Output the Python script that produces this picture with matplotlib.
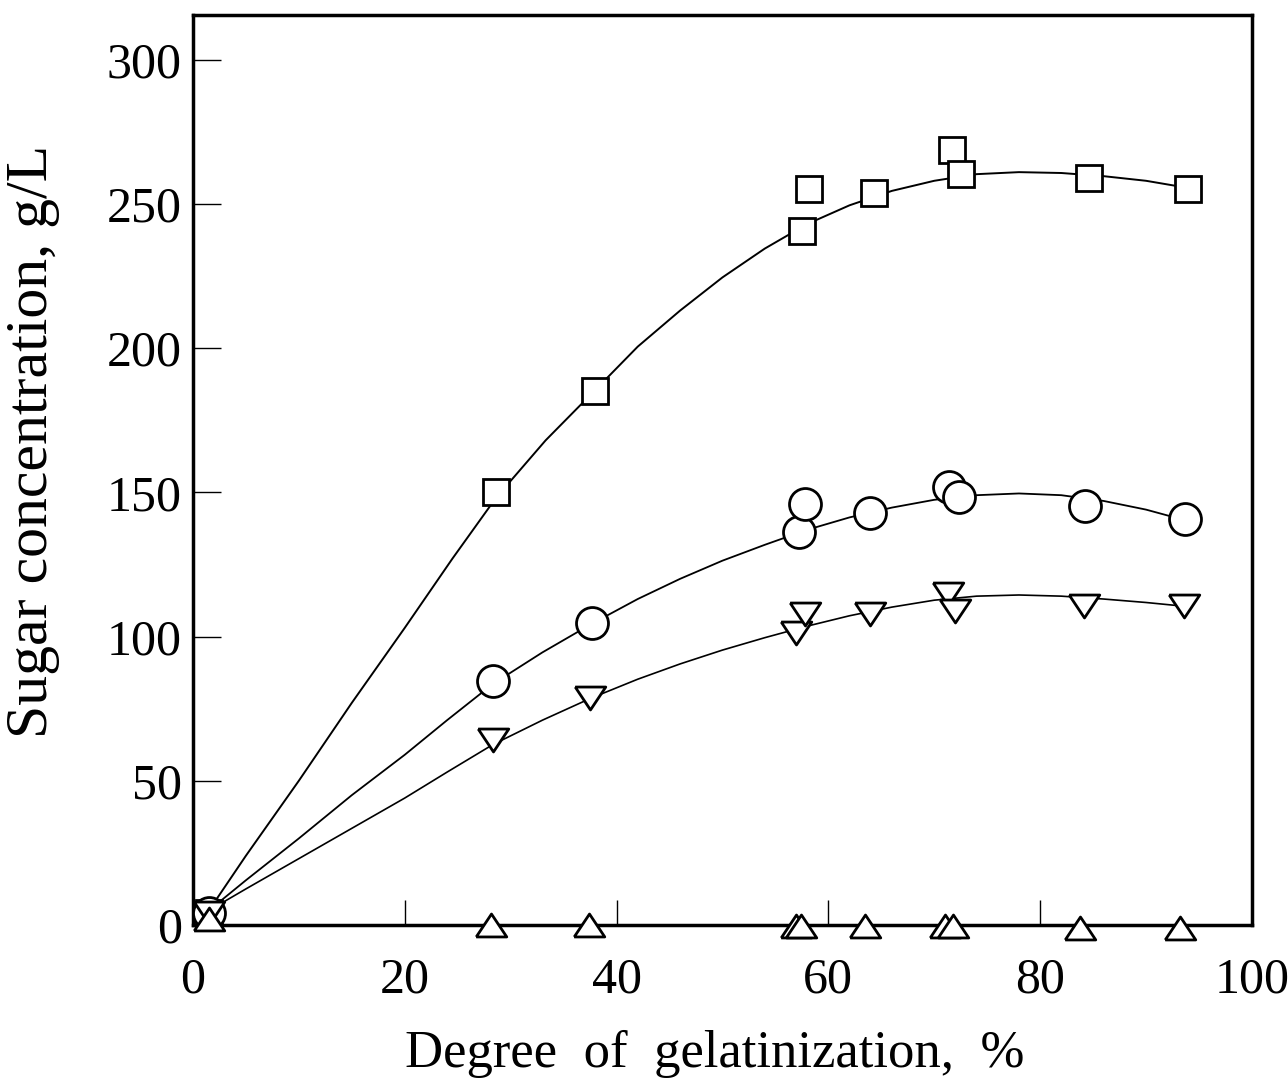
import matplotlib.pyplot as plt

# measured points (degree of gelatinization %, sugar g/L)
sq_x = [1.5, 28.6, 38.0, 57.5, 58.2, 64.3, 71.7, 72.5, 84.6, 94.0]
sq_y = [4, 150, 185, 240.5, 255.3, 253.9, 268.7, 260.3, 259.0, 255.3]

ci_x = [1.5, 28.3, 37.7, 57.2, 57.8, 63.9, 71.4, 72.3, 84.2, 93.7]
ci_y = [4, 84.7, 104.7, 136.4, 146.0, 142.8, 151.8, 148.3, 145.1, 140.6]

td_x = [1.5, 28.3, 37.5, 56.9, 57.8, 63.9, 71.3, 72.0, 84.1, 93.6]
td_y = [4, 64.1, 78.6, 101.3, 107.7, 107.7, 114.6, 109.0, 110.6, 110.6]

tu_x = [1.5, 28.1, 37.4, 56.9, 57.4, 63.5, 71.0, 71.8, 83.8, 93.2]
tu_y = [2, 0, 0, -0.5, -0.5, -0.5, -0.5, -0.5, -1, -1]

# smooth curves
sq_cx = [1.5, 5, 10, 15, 20, 24.5, 28.6, 33.3, 38, 42, 46, 50, 54, 58, 62, 66, 70, 74, 78, 82, 86, 90, 94]
sq_cy = [5, 24, 50, 77, 103, 127, 148, 168, 185.5, 200.5, 213, 224.5, 234.5, 243, 249.5, 254.5,
         258, 260.3, 261, 260.7, 259.6, 258, 255.5]

ci_cx = [1.5, 5, 10, 15, 20, 24, 28.3, 33, 37.7, 42, 46, 50, 54, 58, 62, 66, 70, 74, 78, 82, 86, 90, 93.7]
ci_cy = [5, 15.5, 30, 45, 59, 71, 83.5, 94.5, 104.5, 113, 120, 126.3, 131.8, 137, 141.3, 144.7,
         147.4, 149, 149.6, 149, 147, 144, 140.3]

td_cx = [1.5, 5, 10, 15, 20, 24, 28.3, 33, 37.5, 42, 46, 50, 54, 58, 62, 66, 70, 74, 78, 82, 86, 90, 93.6]
td_cy = [5, 12.5, 23, 33.5, 44, 53, 62.5, 71, 78.5, 85.2, 90.5, 95.3, 99.6, 103.6, 107.2, 110.2,
         112.6, 114, 114.4, 114, 113, 111.8, 110.5]

ticks_x = [0, 20, 40, 60, 80, 100]
ticks_y = [0, 50, 100, 150, 200, 250, 300]

fig = plt.figure(figsize=(12.88, 10.9), dpi=100)
ax = fig.add_axes([0.1498, 0.1514, 0.8222, 0.8349])

ax.plot(sq_cx, sq_cy, color='black', lw=1.4)
ax.plot(ci_cx, ci_cy, color='black', lw=1.3)
ax.plot(td_cx, td_cy, color='black', lw=1.2)

mk = dict(linestyle='none', markerfacecolor='white', markeredgecolor='black',
          markeredgewidth=2.0, clip_on=False, zorder=3)
tri_down = [(-1, 0.75), (1, 0.75), (0, -0.75), (-1, 0.75)]
tri_up = [(-1, -0.75), (1, -0.75), (0, 0.75), (-1, -0.75)]
ax.plot(sq_x, sq_y, marker='s', markersize=18.5, **mk)
ax.plot(ci_x, ci_y, marker='o', markersize=23, **mk)
ax.plot(td_x, td_y, marker=tri_down, markersize=22, **mk)
ax.plot(tu_x, tu_y, marker=tri_up, markersize=22, **mk)

ax.set_xlim(0, 100)
ax.set_ylim(0, 315.5)
ax.set_xticks(ticks_x)
ax.set_yticks(ticks_y)

for s in ax.spines.values():
    s.set_linewidth(2.5)

ax.tick_params(axis='x', direction='in', length=18, width=1.0, pad=23,
               labelsize=36, top=False)
ax.tick_params(axis='y', direction='in', length=20, width=1.0, pad=8,
               labelsize=36, right=False)
for lab in ax.get_xticklabels() + ax.get_yticklabels():
    lab.set_family('Liberation Serif')

ax.set_xlabel('Degree  of  gelatinization,  %', fontsize=38, family='Liberation Serif')
ax.set_ylabel('Sugar concentration, g/L', fontsize=43, family='Liberation Serif')
ax.xaxis.set_label_coords(0.493, -0.115)
ax.yaxis.set_label_coords(-0.126, 0.531)

fig.savefig('out.png', dpi=100)
